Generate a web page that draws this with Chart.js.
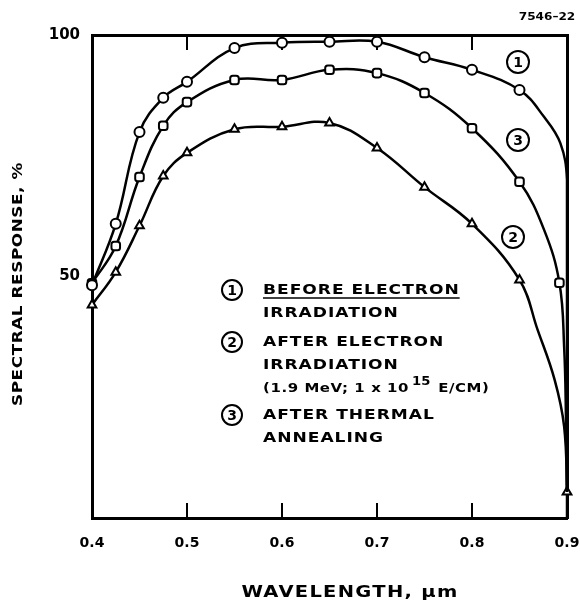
<!DOCTYPE html>
<html>
<head>
<meta charset="utf-8">
<script src="https://cdn.jsdelivr.net/npm/chart.js@4.4.1/dist/chart.umd.min.js"></script>
<style>
  html, body { margin: 0; background: #fff; }
</style>
</head>
<body>
<canvas id="chart" width="580" height="608"></canvas>
<script>
// x tick labels (wavelength, um) and y tick labels (%)
const xTicks = [0.4, 0.5, 0.6, 0.7, 0.8, 0.9];
const yTicks = [50, 100];

// curve 1: before electron irradiation (circles)
const beforeX = [0.4, 0.425, 0.45, 0.475, 0.5, 0.55, 0.6, 0.65, 0.7, 0.75, 0.8, 0.85, 0.876, 0.893, 0.9, 0.9, 0.9];
const beforeY = [48.2, 60.9, 79.9, 87.0, 90.3, 97.3, 98.4, 98.6, 98.6, 95.4, 92.8, 88.6, 83.0, 77.6, 70.0, 49.0, 5.4];
const beforeMarked = [1, 1, 1, 1, 1, 1, 1, 1, 1, 1, 1, 1, 0, 0, 0, 0, 0];

// curve 2: after electron irradiation (triangles)
const electronX = [0.4, 0.425, 0.45, 0.475, 0.5, 0.55, 0.6, 0.65, 0.7, 0.75, 0.8, 0.85, 0.869, 0.887, 0.897, 0.9, 0.9];
const electronY = [44.1, 50.9, 60.5, 70.8, 75.6, 80.5, 81.0, 81.8, 76.6, 68.5, 60.9, 49.3, 39.0, 28.6, 18.9, 5.4, 0];
const electronMarked = [1, 1, 1, 1, 1, 1, 1, 1, 1, 1, 1, 1, 0, 0, 0, 1, 0];

// curve 3: after thermal annealing (squares)
const annealX = [0.4, 0.425, 0.45, 0.475, 0.5, 0.55, 0.6, 0.65, 0.7, 0.75, 0.8, 0.85, 0.876, 0.892, 0.897, 0.899, 0.9];
const annealY = [48.6, 56.3, 70.6, 81.2, 86.1, 90.7, 90.7, 92.8, 92.1, 88.0, 80.7, 69.6, 59.6, 48.7, 35.4, 20.0, 5.4];
const annealMarked = [1, 1, 1, 1, 1, 1, 1, 1, 1, 1, 1, 1, 0, 1, 0, 0, 0];

const legendLines = [
  { num: "1", lines: ["BEFORE ELECTRON", "IRRADIATION"], underline: true },
  { num: "2", lines: ["AFTER ELECTRON", "IRRADIATION", "(1.9 MeV; 1 x 10|15| E/CM)"] },
  { num: "3", lines: ["AFTER THERMAL", "ANNEALING"] }
];

const FONT = "'DejaVu Sans', sans-serif";

function toPoints(xs, ys) {
  return xs.map((x, i) => ({ x: x, y: ys[i] }));
}

function makeSet(label, xs, ys, marked, style) {
  return {
    label: label,
    data: toPoints(xs, ys),
    borderColor: "#000",
    borderWidth: 2.5,
    backgroundColor: "#fff",
    pointStyle: style,
    pointRadius: ctx => marked[ctx.dataIndex] ? 5 : 0,
    pointBorderWidth: 2,
    pointBorderColor: "#000",
    pointBackgroundColor: "#fff",
    tension: 0.4,
    clip: 6
  };
}

// text drawn with a horizontal stretch, returns drawn width
function wideText(ctx, text, x, y, size, stretch, spacing, align) {
  ctx.save();
  ctx.font = "bold " + size + "px " + FONT;
  ctx.letterSpacing = (spacing || 0) + "px";
  ctx.textAlign = align || "left";
  ctx.textBaseline = "middle";
  ctx.translate(x, y);
  ctx.scale(stretch, 1);
  ctx.fillText(text, 0, 0);
  const w = ctx.measureText(text).width * stretch;
  ctx.restore();
  return w;
}

function circledNum(ctx, num, x, y, r) {
  ctx.beginPath();
  ctx.arc(x, y, r, 0, Math.PI * 2);
  ctx.lineWidth = 2;
  ctx.strokeStyle = "#000";
  ctx.stroke();
  wideText(ctx, num, x, y + 1, 14, 1, 0, "center");
}

const decor = {
  id: "decor",
  afterDraw(chart) {
    const ctx = chart.ctx;
    ctx.save();
    ctx.fillStyle = "#000";
    ctx.strokeStyle = "#000";

    // axis titles
    wideText(ctx, "WAVELENGTH, \u03bcm", 350, 593, 15, 1.3, 1, "center");
    ctx.save();
    ctx.translate(18, 284);
    ctx.rotate(-Math.PI / 2);
    wideText(ctx, "SPECTRAL RESPONSE, %", 0, 0, 14, 1.2, 0.5, "center");
    ctx.restore();

    // figure number
    wideText(ctx, "7546\u201322", 547, 17, 11, 1.1, 0, "center");

    // curve labels
    circledNum(ctx, "1", 518, 62, 11);
    circledNum(ctx, "3", 518, 140, 11);
    circledNum(ctx, "2", 513, 237, 11);

    // legend block
    const lx = 232, tx = 263;
    const rows = [290, 342, 415];
    const lineGap = 23.5;
    legendLines.forEach((item, k) => {
      circledNum(ctx, item.num, lx, rows[k], 10);
      item.lines.forEach((ln, j) => {
        const y = rows[k] + j * lineGap;
        if (ln.indexOf("|") >= 0) {
          const parts = ln.split("|");
          let x = tx;
          x += wideText(ctx, parts[0], x, y, 13, 1.15, 0.5);
          x += 3;
          x += wideText(ctx, parts[1], x, y - 7, 12, 1.1, 0);
          x += 2;
          wideText(ctx, parts[2], x, y, 13, 1.15, 0.5);
        } else {
          const w = wideText(ctx, ln, tx, y, 14, 1.22, 0.8);
          if (item.underline && j === 0) {
            ctx.beginPath();
            ctx.moveTo(tx, y + 8);
            ctx.lineTo(tx + w, y + 8);
            ctx.lineWidth = 1.5;
            ctx.stroke();
          }
        }
      });
    });
    ctx.restore();
  }
};

const tickFont = { family: FONT, size: 14, weight: "bold" };

new Chart(document.getElementById("chart"), {
  type: "line",
  data: {
    datasets: [
      makeSet("Before electron irradiation", beforeX, beforeY, beforeMarked, "circle"),
      makeSet("After electron irradiation", electronX, electronY, electronMarked, "triangle"),
      makeSet("After thermal annealing", annealX, annealY, annealMarked, "rectRounded")
    ]
  },
  options: {
    responsive: false,
    devicePixelRatio: 1,
    animation: false,
    layout: { padding: { top: 35, right: 13, left: 0, bottom: 0 } },
    plugins: { legend: { display: false }, tooltip: { enabled: false } },
    scales: {
      x: {
        type: "linear",
        position: "bottom",
        min: xTicks[0],
        max: xTicks[xTicks.length - 1],
        afterBuildTicks: s => { s.ticks = xTicks.map(v => ({ value: v })); },
        ticks: {
          callback: v => v.toFixed(1),
          font: tickFont,
          color: "#000",
          padding: 32,
          maxRotation: 0
        },
        grid: { drawOnChartArea: false, tickLength: -15, color: "#000", lineWidth: 2 },
        border: { color: "#000", width: 3 },
        afterFit: s => { s.height = 90; s.paddingRight = 13; s.paddingLeft = 0; }
      },
      x2: {
        type: "linear",
        position: "top",
        min: xTicks[0],
        max: xTicks[xTicks.length - 1],
        afterBuildTicks: s => { s.ticks = xTicks.map(v => ({ value: v })); },
        ticks: { display: false },
        grid: { drawOnChartArea: false, tickLength: -15, color: "#000", lineWidth: 2 },
        border: { color: "#000", width: 3 },
        afterFit: s => { s.height = 0; s.paddingRight = 0; s.paddingLeft = 0; }
      },
      y: {
        type: "linear",
        min: 0,
        max: 100,
        afterBuildTicks: s => { s.ticks = yTicks.map(v => ({ value: v })); },
        ticks: { font: { family: FONT, size: 15, weight: "bold" }, color: "#000", padding: 12 },
        grid: { drawOnChartArea: false, drawTicks: false },
        border: { color: "#000", width: 3 },
        afterFit: s => { s.width = 92; }
      },
      y2: {
        type: "linear",
        position: "right",
        min: 0,
        max: 100,
        ticks: { display: false },
        grid: { drawOnChartArea: false, drawTicks: false },
        border: { color: "#000", width: 3 },
        afterFit: s => { s.width = 0; }
      }
    }
  },
  plugins: [decor]
});
</script>
</body>
</html>
